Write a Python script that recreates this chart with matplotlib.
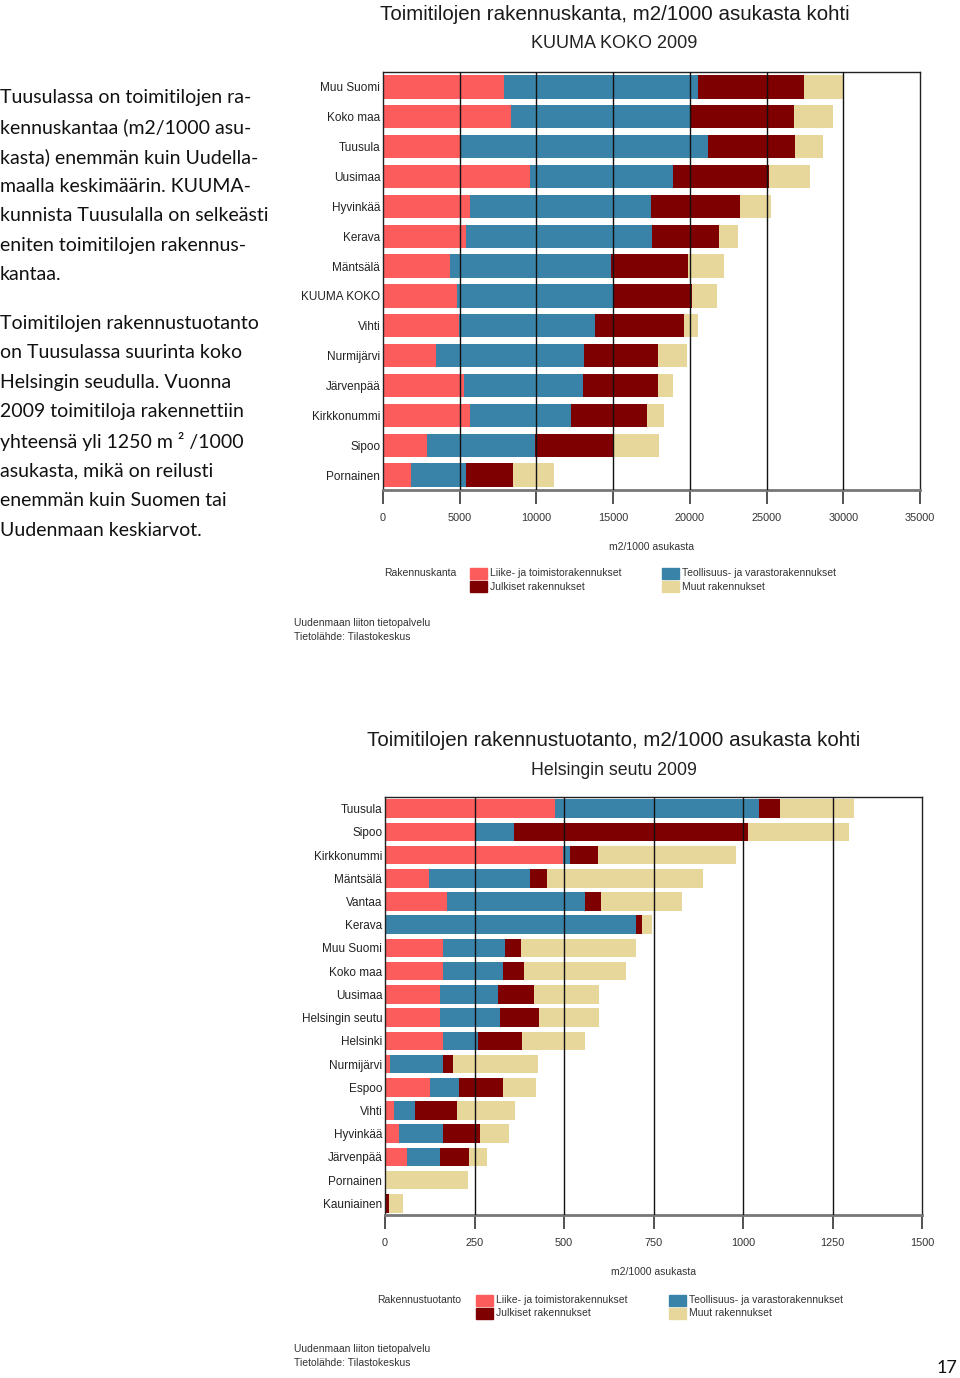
import matplotlib.pyplot as plt
import numpy as np

plt.rcParams['font.family'] = ['Liberation Sans', 'DejaVu Sans']

# colours of the four building types
colors = ['#fd5c5c', '#3983a9', '#7f0000', '#e8d79a']
legend_names = ['Liike- ja toimistorakennukset', 'Teollisuus- ja varastorakennukset',
                'Julkiset rakennukset', 'Muut rakennukset']

# chart 1: rakennuskanta, m2/1000 asukasta
kanta_alueet = ['Muu Suomi', 'Koko maa', 'Tuusula', 'Uusimaa', 'Hyvinkää', 'Kerava',
                'Mäntsälä', 'KUUMA KOKO', 'Vihti', 'Nurmijärvi', 'Järvenpää',
                'Kirkkonummi', 'Sipoo', 'Pornainen']
kanta_liike = [7900, 8340, 5030, 9560, 5640, 5410, 4360, 4810, 4945, 3450, 5300, 5660, 2870, 1820]
kanta_teoll = [12600, 11660, 16160, 9360, 11820, 12130, 10500, 10190, 8840, 9620, 7710, 6580, 7050, 3590]
kanta_julk = [6960, 6800, 5660, 6270, 5800, 4390, 5030, 5110, 5825, 4860, 4920, 4940, 5160, 3070]
kanta_muut = [2490, 2560, 1800, 2650, 2020, 1190, 2320, 1660, 940, 1900, 990, 1110, 2930, 2680]

# chart 2: rakennustuotanto, m2/1000 asukasta
tuot_alueet = ['Tuusula', 'Sipoo', 'Kirkkonummi', 'Mäntsälä', 'Vantaa', 'Kerava',
               'Muu Suomi', 'Koko maa', 'Uusimaa', 'Helsingin seutu', 'Helsinki',
               'Nurmijärvi', 'Espoo', 'Vihti', 'Hyvinkää', 'Järvenpää', 'Pornainen',
               'Kauniainen']
tuot_liike = [476, 250, 496, 123, 172, 0, 163, 163, 154, 154, 161, 14, 126, 26, 39, 62, 0, 0]
tuot_teoll = [570, 110, 21, 282, 386, 701, 172, 168, 162, 168, 99, 149, 80, 58, 124, 92, 0, 0]
tuot_julk = [58, 655, 78, 48, 46, 16, 45, 58, 101, 107, 123, 26, 123, 116, 101, 81, 0, 10]
tuot_muut = [206, 281, 385, 436, 226, 28, 320, 283, 181, 169, 175, 239, 92, 163, 81, 50, 232, 39]

W, H = 960, 1378
fig = plt.figure(figsize=(W / 100, H / 100), dpi=100)


def px_axes(left, top, right, bottom):
    return fig.add_axes([left / W, 1 - bottom / H, (right - left) / W, (bottom - top) / H])


def draw_chart(ax, names, series, xmax, step, bar_h):
    y = np.arange(len(names))
    left = np.zeros(len(names))
    for vals, c in zip(series, colors):
        ax.barh(y, vals, left=left, height=bar_h, color=c, zorder=2)
        left = left + np.array(vals)
    ax.set_ylim(len(names) - 0.5, -0.5)
    ax.set_xlim(0, xmax)
    ticks = np.arange(0, xmax + 1, step)
    ax.set_xticks(ticks)
    ax.set_xticklabels([str(int(t)) for t in ticks])
    for t in ticks[1:-1]:
        ax.axvline(t, color='#111111', lw=1.0, zorder=3)
    ax.set_yticks(y)
    ax.set_yticklabels(names, fontsize=8.5, color='#222222')
    ax.tick_params(axis='y', length=0, pad=2)
    ax.tick_params(axis='x', length=10, width=1.3, color='#444444', pad=6.5,
                   labelsize=7.8, labelcolor='#333333')
    for s in ['top', 'right', 'left']:
        ax.spines[s].set_color('#222222')
        ax.spines[s].set_linewidth(1.0)
    ax.spines['bottom'].set_color('#777777')
    ax.spines['bottom'].set_linewidth(2.0)
    ax.set_xlabel('m2/1000 asukasta', fontsize=7.5, color='#333333', labelpad=14)


def draw_legend(title, x_title, x_col1, x_col2, y_row1):
    fig.text(x_title / W, 1 - y_row1 / H, title, fontsize=7.5, color='#333333', va='center')
    pos = [(x_col1, y_row1), (x_col2, y_row1), (x_col1, y_row1 + 13.5), (x_col2, y_row1 + 13.5)]
    for (px, py), c, name in zip(pos, colors, legend_names):
        fig.patches.append(plt.Rectangle((px / W, 1 - (py + 5.5) / H), 17 / W, 11 / H,
                                         color=c, transform=fig.transFigure, figure=fig))
        fig.text((px + 20) / W, 1 - py / H, name, fontsize=7.5, color='#333333', va='center')


def draw_source(y):
    fig.text(294 / W, 1 - y / H, 'Uudenmaan liiton tietopalvelu', fontsize=7.5, color='#333333', va='center')
    fig.text(294 / W, 1 - (y + 14) / H, 'Tietolähde: Tilastokeskus', fontsize=7.5, color='#333333', va='center')


# --- chart 1
ax1 = px_axes(383, 72, 920, 490)
draw_chart(ax1, kanta_alueet, [kanta_liike, kanta_teoll, kanta_julk, kanta_muut], 35000, 5000, 0.78)
fig.text(615 / W, 1 - 15 / H, 'Toimitilojen rakennuskanta, m2/1000 asukasta kohti',
         fontsize=14.8, ha='center', va='center', color='#1a1a1a')
fig.text(614 / W, 1 - 44 / H, 'KUUMA KOKO 2009', fontsize=13, ha='center', va='center', color='#222222')
draw_legend('Rakennuskanta', 384, 470, 662, 573)
draw_source(623)

# --- chart 2
ax2 = px_axes(385, 797, 922, 1215)
draw_chart(ax2, tuot_alueet, [tuot_liike, tuot_teoll, tuot_julk, tuot_muut], 1500, 250, 0.8)
fig.text(614 / W, 1 - 741 / H, 'Toimitilojen rakennustuotanto, m2/1000 asukasta kohti',
         fontsize=14.8, ha='center', va='center', color='#1a1a1a')
fig.text(614 / W, 1 - 770 / H, 'Helsingin seutu 2009', fontsize=12.8, ha='center', va='center', color='#222222')
draw_legend('Rakennustuotanto', 377, 476, 669, 1300)
draw_source(1349)

# --- body text on the left
para1 = ['Tuusulassa on toimitilojen ra-', 'kennuskantaa (m2/1000 asu-',
         'kasta) enemmän kuin Uudella-', 'maalla keskimäärin. KUUMA-',
         'kunnista Tuusulalla on selkeästi', 'eniten toimitilojen rakennus-', 'kantaa.']
para2 = ['Toimitilojen rakennustuotanto', 'on Tuusulassa suurinta koko',
         'Helsingin seudulla. Vuonna', '2009 toimitiloja rakennettiin',
         'yhteensä yli 1250 m ² /1000', 'asukasta, mikä on reilusti',
         'enemmän kuin Suomen tai', 'Uudenmaan keskiarvot.']
for i, line in enumerate(para1):
    fig.text(0, 1 - (98 + i * 29.4) / H, line, fontsize=14, family=['Lato', 'DejaVu Sans'],
             va='center', color='#111111')
for i, line in enumerate(para2):
    fig.text(0, 1 - (323 + i * 29.6) / H, line, fontsize=14, family=['Lato', 'DejaVu Sans'],
             va='center', color='#111111')

fig.text(957 / W, 1 - 1368 / H, '17', fontsize=13, family=['Lato', 'DejaVu Sans'],
         ha='right', va='center', color='#111111')

plt.savefig('out.png', dpi=100)
